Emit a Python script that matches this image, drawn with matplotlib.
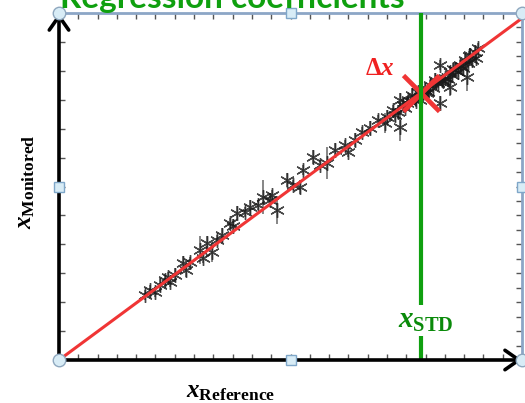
import matplotlib
matplotlib.use("Agg")
import matplotlib.pyplot as plt
from matplotlib.ticker import MultipleLocator

plt.rcParams['mathtext.fontset'] = 'custom'
plt.rcParams['mathtext.rm'] = 'Liberation Serif:bold'
plt.rcParams['mathtext.bf'] = 'Liberation Serif:bold'
plt.rcParams['mathtext.it'] = 'Liberation Serif:italic:bold'

# reference vs monitored readings, in percent of axis range
x_ref = [18.6, 19.7, 20.7, 21.8, 22.9, 24.0, 25.1, 26.8, 28.3, 30.5,
         32.0, 33.0, 34.1, 35.2, 36.9, 38.4, 40.2, 41.3, 43.0, 44.1,
         45.6, 47.1, 49.2, 50.5, 52.1, 52.7, 54.9, 56.4, 57.9, 59.6,
         61.8, 63.9, 65.4, 67.2, 68.9, 70.8, 72.1, 73.7, 73.7, 75.2,
         76.2, 77.5, 79.0, 80.1, 81.2, 82.3, 82.3, 83.4, 84.4, 84.4,
         85.5, 86.6, 88.1, 87.7, 88.8, 89.8, 90.5, 79.7, 80.8, 78.0,
         74.7, 73.2, 70.4, 81.9, 84.0, 86.2, 87.3, 89.2, 74.3, 76.9,
         78.6, 82.7, 84.9, 88.3, 90.1, 72.6, 75.4, 77.0, 79.5, 81.5,
         83.0, 85.0, 86.8, 88.6, 23.5, 27.5, 31.0, 37.5, 46.0, 62.5]
x_mon = [18.7, 20.2, 19.6, 21.6, 23.1, 22.5, 24.5, 28.0, 28.2, 31.7,
         33.7, 31.1, 34.6, 36.0, 39.5, 42.4, 42.7, 44.1, 44.7, 47.0,
         46.1, 43.2, 51.9, 50.4, 49.9, 54.8, 58.5, 56.2, 56.8, 60.5,
         62.0, 63.4, 65.7, 66.9, 69.2, 70.0, 72.0, 67.1, 74.9, 74.1,
         76.4, 77.2, 77.8, 79.3, 80.7, 85.0, 74.1, 81.3, 78.7, 83.0,
         83.6, 85.0, 81.6, 86.5, 87.9, 88.8, 89.9, 77.2, 78.4, 74.9,
         72.6, 71.5, 68.3, 79.8, 81.0, 83.0, 84.1, 86.5, 73.5, 75.4,
         76.9, 80.7, 82.0, 85.6, 87.0, 70.6, 74.9, 74.5, 77.0, 80.0,
         80.5, 84.0, 84.8, 87.5, 24.0, 26.0, 29.5, 38.5, 47.5, 60.0]
y_err = [1.5, 1.5, 1.5, 2.0, 1.5, 1.5, 2.0, 2.0, 1.5, 4.0,
         2.0, 3.0, 1.5, 2.0, 1.5, 2.0, 1.5, 2.0, 1.5, 5.0,
         2.0, 4.0, 2.0, 1.5, 2.0, 1.5, 2.0, 1.5, 4.5, 2.0,
         1.5, 2.0, 1.5, 2.0, 1.5, 2.0, 1.5, 4.0, 2.0, 1.5,
         2.0, 1.5, 2.0, 1.5, 2.0, 1.5, 2.0, 1.5, 2.5, 1.5,
         2.0, 1.5, 4.0, 1.5, 2.0, 1.5, 1.5, 2.0, 1.5, 2.0,
         1.5, 2.0, 3.0, 1.5, 2.0, 1.5, 2.0, 1.5, 1.5, 1.5,
         1.5, 1.5, 1.5, 1.5, 1.5, 2.0, 1.5, 1.5, 1.5, 1.5,
         1.5, 1.5, 1.5, 1.5, 1.5, 2.0, 1.5, 2.0, 1.5, 1.5]

slope = 0.985
x_std = 78.2

fig = plt.figure(figsize=(5.25, 4.03), dpi=100)
ax = fig.add_axes([59/525, 43/403, 463/525, 347/403])
ax.set_xlim(0, 100)
ax.set_ylim(0, 100)

ax.errorbar(x_ref, x_mon, yerr=y_err, fmt='none', ecolor='#333333',
            elinewidth=1.1, alpha=0.75, zorder=2)
ax.plot(x_ref, x_mon, linestyle='none', marker=(6, 2, 0), markersize=10.5,
        markeredgewidth=1.0, color='#1a1a1a', alpha=0.8, zorder=2)

ax.plot([0, 100], [0, slope * 100], color='#f03535', lw=2.2, zorder=3)
ax.plot([x_std], [slope * x_std], marker='x', markersize=26,
        markeredgewidth=3.4, color='#f03535', zorder=4)
ax.axvline(x_std, color='#10a010', lw=3, zorder=5)
ax.text(x_std + 1.0, 11.5, r'$x_{\mathrm{STD}}$', color='#0a8a0a', fontsize=21,
        ha='center', va='center', zorder=6,
        bbox=dict(facecolor='white', edgecolor='none', pad=1))
ax.text(69.3, 84.1, r'$\mathbf{\Delta}x$', color='#f02020', fontsize=18,
        ha='center', va='center', zorder=6)

# frame: arrows for the two axes, light border on the other sides
for s in ['left', 'bottom']:
    ax.spines[s].set_visible(False)
for s in ['top', 'right']:
    ax.spines[s].set_color('#8ca6c6')
    ax.spines[s].set_linewidth(2)
arrow = dict(arrowstyle='->,head_length=0.5,head_width=0.35', lw=2.6,
             color='black', mutation_scale=20, shrinkA=0, shrinkB=0)
ax.annotate('', xy=(0, 1.0), xytext=(0, 0), xycoords='axes fraction',
            arrowprops=arrow, zorder=7, annotation_clip=False)
ax.annotate('', xy=(1.0, 0), xytext=(0, 0), xycoords='axes fraction',
            arrowprops=arrow, zorder=7, annotation_clip=False)

ax.xaxis.set_major_locator(MultipleLocator(100/24))
ax.yaxis.set_major_locator(MultipleLocator(100/12))
ax.yaxis.set_minor_locator(MultipleLocator(100/24))
ax.tick_params(which='major', direction='in', length=4, width=1, color='#555555',
               top=True, right=True, labelbottom=False, labelleft=False)
ax.tick_params(which='minor', direction='in', length=4, width=1, color='#555555',
               left=False, right=True, bottom=False, top=False)

# selection handles
for hx, hy in [(0.5, 0), (0.5, 1), (0, 0.5), (1, 0.5)]:
    ax.plot(hx, hy, marker='s', markersize=7, markerfacecolor='#d8ecf6',
            markeredgecolor='#7fa7c9', transform=ax.transAxes, clip_on=False, zorder=8)
for hx, hy in [(0, 0), (0, 1), (1, 0), (1, 1)]:
    ax.plot(hx, hy, marker='o', markersize=9, markerfacecolor='#d8ecf6',
            markeredgecolor='#8fa8bf', transform=ax.transAxes, clip_on=False, zorder=8)

fig.text(231/525, 1 - 391/403, r'$x_{\mathrm{Reference}}$', fontsize=18,
         ha='center', va='center')
fig.text(25/525, 1 - 182/403, r'$x_{\mathrm{Monitored}}$', fontsize=18,
         ha='center', va='center', rotation=90)
fig.text(60/525, 1 - 8/403, 'Regression coefficients', color='#0fa00f',
         fontsize=24, fontweight='bold', family='Lato', ha='left', va='baseline')

fig.savefig('out.png', dpi=100)
